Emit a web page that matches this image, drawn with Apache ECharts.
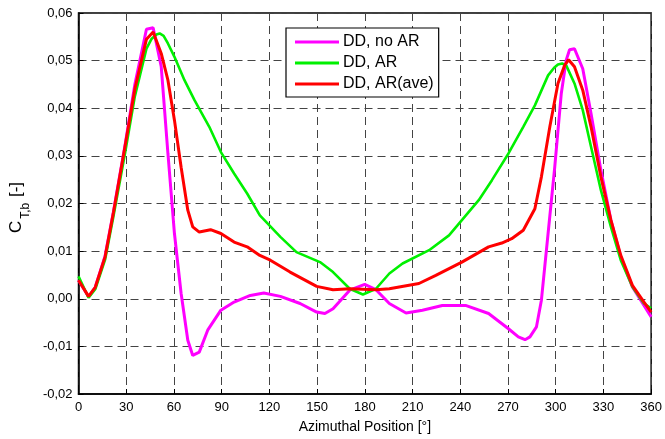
<!DOCTYPE html>
<html><head><meta charset="utf-8">
<script src="https://cdn.jsdelivr.net/npm/echarts@6/dist/echarts.min.js"></script>
<style>html,body{margin:0;padding:0;background:#fff}#c{width:665px;height:439px}</style>
</head><body><div id="c"></div>
<script>
const seriesNames = ['DD, no AR', 'DD, AR', 'DD, AR(ave)'];
const xTicks = [0, 30, 60, 90, 120, 150, 180, 210, 240, 270, 300, 330, 360];
const yTicks = [-0.02, -0.01, 0.00, 0.01, 0.02, 0.03, 0.04, 0.05, 0.06];

const noArAngle = [0, 6.3, 10.5, 16.7, 21.9, 29.2, 35.4, 42.7, 46.9, 52, 56.2, 60.3, 64.5, 68.7, 71.8, 75.9, 81.2, 89.5, 97.8, 108, 116.5, 126.9, 139.3, 149.7, 154.9, 160, 170.5, 179.9, 187, 195.4, 205.9, 216.2, 228.7, 243.3, 257.8, 270.3, 276.5, 280.7, 283.8, 287.9, 291, 295.2, 299.4, 303.5, 306.6, 308.7, 311.8, 317, 322.2, 328.4, 334.7, 340.9, 348.2, 355.5, 360];
const noArValue = [0.0039, 0.0004, 0.0024, 0.0090, 0.0182, 0.0322, 0.0450, 0.0566, 0.0569, 0.0487, 0.0305, 0.0137, 0.0011, -0.0087, -0.0119, -0.0112, -0.0066, -0.0024, -0.0007, 0.0007, 0.0012, 0.0005, -0.0010, -0.0028, -0.0031, -0.0021, 0.0018, 0.0030, 0.0019, -0.0010, -0.0030, -0.0024, -0.0014, -0.0014, -0.0031, -0.0063, -0.0080, -0.0086, -0.0080, -0.0059, -0.0003, 0.0137, 0.0277, 0.0431, 0.0501, 0.0523, 0.0525, 0.0483, 0.0389, 0.0270, 0.0165, 0.0088, 0.0025, -0.0014, -0.0038];

const arAngle = [0, 6.3, 10.5, 16.7, 21.9, 29.2, 35.4, 42.7, 46, 49, 51, 53.5, 56.2, 60.3, 66.6, 72.9, 82.2, 89.5, 97.8, 106, 114, 126.9, 137, 151.8, 160, 170.5, 178.8, 187, 195.4, 203.7, 220.4, 232.9, 241, 251.6, 259.9, 270.3, 279.6, 286.9, 295.2, 299, 301.4, 304, 306.6, 311.8, 317, 322.2, 328.4, 334.7, 340.9, 348.2, 355.5, 360];
const arValue = [0.0047, 0.0002, 0.0020, 0.0082, 0.0172, 0.0305, 0.0425, 0.0525, 0.0546, 0.0555, 0.0557, 0.0552, 0.0536, 0.0508, 0.0459, 0.0417, 0.0361, 0.0308, 0.0263, 0.0221, 0.0175, 0.0130, 0.0098, 0.0077, 0.0056, 0.0021, 0.0009, 0.0021, 0.0053, 0.0074, 0.0102, 0.0133, 0.0165, 0.0207, 0.0249, 0.0305, 0.0361, 0.0406, 0.0469, 0.0485, 0.0492, 0.0494, 0.0490, 0.0452, 0.0396, 0.0319, 0.0228, 0.0151, 0.0081, 0.0025, -0.0010, -0.0020];

const aveAngle = [0, 6.3, 10.5, 16.7, 21.9, 29.2, 35.4, 42.7, 46.9, 52, 56.2, 60.3, 64.5, 68.7, 71.8, 75.9, 83, 89.5, 97.8, 106, 114, 120.6, 133, 149.7, 160, 170.5, 187, 195.4, 214, 224.6, 241, 257.8, 266.1, 272.3, 279.6, 286.9, 291, 296.3, 301.4, 305.6, 308.1, 311.8, 317, 322.2, 328.4, 334.7, 340.9, 348.2, 355.5, 360];
const aveValue = [0.0039, 0.0005, 0.0024, 0.0088, 0.0180, 0.0319, 0.0440, 0.0545, 0.0560, 0.0515, 0.0459, 0.0375, 0.0276, 0.0186, 0.0151, 0.0140, 0.0145, 0.0137, 0.0119, 0.0109, 0.0091, 0.0081, 0.0056, 0.0026, 0.0019, 0.0021, 0.0019, 0.0021, 0.0032, 0.0049, 0.0077, 0.0109, 0.0117, 0.0126, 0.0144, 0.0189, 0.0256, 0.0361, 0.0452, 0.0490, 0.0502, 0.0487, 0.0438, 0.0361, 0.0256, 0.0165, 0.0091, 0.0028, -0.0007, -0.0028];

const zip = (a, b) => a.map((x, i) => [x, b[i]]);
const font = 'Liberation Sans, Arial, sans-serif';
const chart = echarts.init(document.getElementById('c'), null, {renderer: 'canvas'});
const gridDash = {type: [8, 5], color: '#444', width: 1};

chart.setOption({
  animation: false,
  backgroundColor: '#fff',
  grid: {left: 76.5, right: 11, top: 13, bottom: 44.7, show: true, borderColor: '#000', borderWidth: 1.5, backgroundColor: 'transparent'},
  legend: {
    show: true, orient: 'vertical', left: 286, top: 28,
    data: seriesNames,
    backgroundColor: '#fff', borderColor: '#000', borderWidth: 1.2,
    padding: [6, 5, 5, 9], itemGap: 5, itemWidth: 44, itemHeight: 16,
    icon: 'path://M0,6.5 L44,6.5 L44,9.5 L0,9.5 Z',
    textStyle: {fontFamily: font, fontSize: 16, color: '#000', padding: [0, 0, 0, -1]}
  },
  xAxis: {
    type: 'value', min: 0, max: 360, interval: 30,
    name: 'Azimuthal Position [°]', nameLocation: 'middle', nameGap: 26,
    nameTextStyle: {fontFamily: font, fontSize: 14, color: '#000'},
    axisLine: {show: true, onZero: false, lineStyle: {color: '#000', width: 1.5}},
    axisTick: {show: true, inside: true, length: 5, lineStyle: {color: '#000'}},
    axisLabel: {fontFamily: font, fontSize: 13, color: '#000', margin: 7, formatter: v => xTicks.includes(v) ? String(v) : ''},
    splitLine: {show: true, lineStyle: gridDash}
  },
  yAxis: {
    type: 'value', min: -0.02, max: 0.06, interval: 0.01,
    name: '{c|C}{s|T,b}{c| [-]}', nameLocation: 'middle', nameGap: 50, nameRotate: 90,
    nameTextStyle: {fontFamily: font, color: '#000', padding: [0, 8, 0, 0], rich: {
      c: {fontFamily: font, fontSize: 17, color: '#000'},
      s: {fontFamily: font, fontSize: 12, color: '#000', verticalAlign: 'bottom', padding: [0, 1, -7, 2]}
    }},
    axisLine: {show: true, onZero: false, lineStyle: {color: '#000', width: 1.5}},
    axisTick: {show: true, inside: true, length: 5, lineStyle: {color: '#000'}},
    axisLabel: {fontFamily: font, fontSize: 13, color: '#000', margin: 6, formatter: v => {
      const r = Math.round(v * 100) / 100;
      const t = yTicks.find(k => Math.abs(k - r) < 1e-9);
      return t === undefined ? '' : (r < 0 ? '-' : '') + Math.abs(r).toFixed(2).replace('.', ',');
    }},
    splitLine: {show: true, lineStyle: gridDash}
  },
  series: [
    {name: seriesNames[0], type: 'line', data: zip(noArAngle, noArValue), showSymbol: false, symbol: 'none', color: '#ff00ff', lineStyle: {width: 3, color: '#ff00ff'}, z: 2},
    {name: seriesNames[1], type: 'line', data: zip(arAngle, arValue), showSymbol: false, symbol: 'none', color: '#00f000', lineStyle: {width: 2.6, color: '#00f000'}, z: 3},
    {name: seriesNames[2], type: 'line', data: zip(aveAngle, aveValue), showSymbol: false, symbol: 'none', color: '#ff0000', lineStyle: {width: 3, color: '#ff0000'}, z: 4}
  ]
});
</script></body></html>
